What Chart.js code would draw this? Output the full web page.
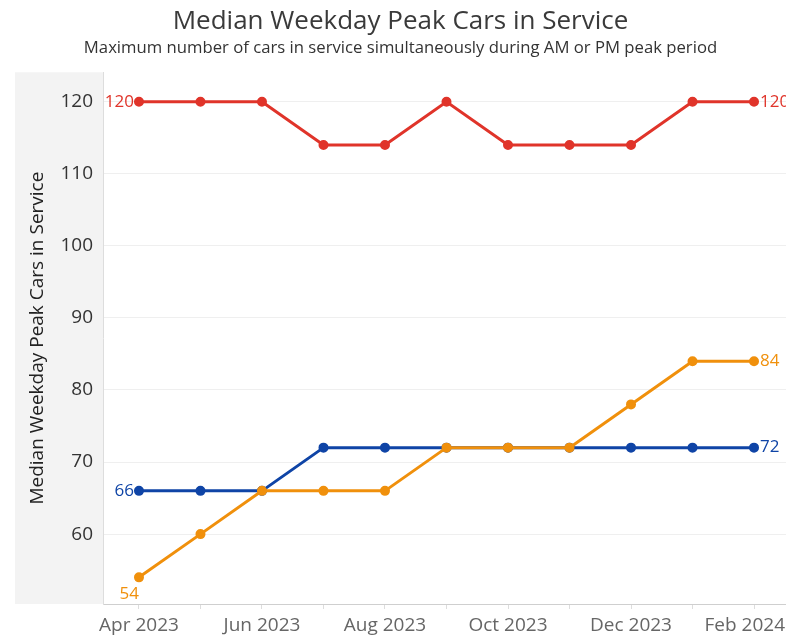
<!DOCTYPE html>
<html><head><meta charset="utf-8">
<script src="https://cdn.jsdelivr.net/npm/chart.js@4"></script>
<style>html,body{margin:0;padding:0;background:#fff}</style>
</head><body>
<canvas id="c" width="786" height="639" style="display:block;width:786px;height:639px"></canvas>
<script>
const months = ['Apr 2023','May 2023','Jun 2023','Jul 2023','Aug 2023','Sep 2023','Oct 2023','Nov 2023','Dec 2023','Jan 2024','Feb 2024'];
const seriesRed = [120,120,120,114,114,120,114,114,114,120,120];
const seriesBlue = [66,66,66,72,72,72,72,72,72,72,72];
const seriesOrange = [54,60,66,66,66,72,72,72,78,84,84];
const yTicks = [60,70,80,90,100,110,120];
const titleText = 'Median Weekday Peak Cars in Service';
const subtitleText = 'Maximum number of cars in service simultaneously during AM or PM peak period';
const yTitle = 'Median Weekday Peak Cars in Service';

const FONT = "'Open Sans', 'Noto Sans', sans-serif";
const RED = '#e0342a', BLUE = '#0f44a6', ORANGE = '#f0900c';

function pts(arr){ return arr.map((v,i)=>({x:i,y:v})); }

const panelPlugin = {
  id:'panel',
  beforeDraw(chart){
    const {ctx, chartArea:a} = chart;
    ctx.save();
    ctx.fillStyle = '#f3f3f3';
    ctx.fillRect(15, a.top, a.left-15, a.bottom-a.top);
    ctx.restore();
  }
};

const labelPlugin = {
  id:'endLabels',
  afterDatasetsDraw(chart){
    const ctx = chart.ctx;
    ctx.save();
    ctx.font = "17px " + FONT;
    chart.data.datasets.forEach((ds,di)=>{
      const meta = chart.getDatasetMeta(di);
      const first = meta.data[0], last = meta.data[meta.data.length-1];
      const fv = ds.data[0].y, lv = ds.data[ds.data.length-1].y;
      ctx.fillStyle = ds.borderColor;
      ctx.textBaseline = 'middle';
      ctx.textAlign = 'right';
      if (ds.firstBelow) {
        ctx.fillText(String(fv), first.x, first.y + 17);
      } else {
        ctx.fillText(String(fv), first.x - 5, first.y);
      }
      ctx.textAlign = 'left';
      ctx.fillText(String(lv), last.x + 6, last.y);
    });
    ctx.restore();
  }
};

function mk(label, arr, color, extra){
  return Object.assign({
    label, data: pts(arr), borderColor: color, backgroundColor: color,
    borderWidth: 3, pointRadius: 3.5, pointHoverRadius: 3.5, tension: 0
  }, extra||{});
}

const zeroPad = () => ({left:0, top:0, right:0, bottom:0});

new Chart(document.getElementById('c'), {
  type:'line',
  data:{ datasets:[
    mk('Orange', seriesOrange, ORANGE, {firstBelow:true}),
    mk('Blue', seriesBlue, BLUE),
    mk('Red', seriesRed, RED)
  ]},
  options:{
    responsive:false, animation:false,
    layout:{ autoPadding:false, padding:{left:15, right:0, top:0, bottom:0} },
    plugins:{
      legend:{display:false}, tooltip:{enabled:false},
      title:{ display:true, text:titleText, color:'#3a3a3a',
        font:{family:FONT, size:26, weight:'normal'}, padding:{top:6,bottom:0} },
      subtitle:{ display:true, text:subtitleText, color:'#333',
        font:{family:FONT, size:16.7, weight:'normal'}, padding:{top:1,bottom:14} }
    },
    scales:{
      x:{ type:'linear', min:-0.585, max:10.52,
        afterBuildTicks(s){ s.ticks = months.map((m,i)=>({value:i})); },
        afterFit(s){
          s.height = 35; s.paddingLeft = 0; s.paddingRight = 0; s.getPadding = zeroPad;
          if (!s._wrapped) {
            const orig = s._computeLabelItems;
            s._computeLabelItems = function(ca){
              const items = orig.call(this, ca);
              const last = items[items.length-1];
              if (last && last.options && last.options.translation) {
                const w = this.ctx ? (()=>{ this.ctx.save(); this.ctx.font = "19px " + FONT; const m = this.ctx.measureText(months[months.length-1]).width; this.ctx.restore(); return m; })() : 78;
                const x = last.options.translation[0];
                const over = x + w/2 - (this.chart.width - 1);
                if (over > 0) last.options.translation[0] = x - over;
              }
              return items;
            };
            s._wrapped = true;
          }
        },
        ticks:{ autoSkip:false, maxRotation:0, padding:5, color:'#666',
          font:{family:FONT, size:19},
          callback(v){ return (v % 2 === 0) ? months[v] : ''; } },
        grid:{ drawOnChartArea:false, color:'#dddddd', tickLength:5 },
        border:{ color:'#cfcfcf' }
      },
      y:{ type:'linear', min:50.3, max:124.1,
        afterBuildTicks(s){ s.ticks = yTicks.map(v=>({value:v})); },
        afterFit(s){ s.width = 88; s.paddingTop = 0; s.paddingBottom = 0; s.getPadding = zeroPad; },
        ticks:{ padding:10, color:'#333', font:{family:FONT, size:19} },
        grid:{ color:'#efefef', drawTicks:false },
        border:{ color:'#dddddd' },
        title:{ display:true, text:yTitle, color:'#222',
          font:{family:FONT, size:19}, padding:{top:11,bottom:0} }
      }
    }
  },
  plugins:[panelPlugin, labelPlugin]
});
</script>
</body></html>
